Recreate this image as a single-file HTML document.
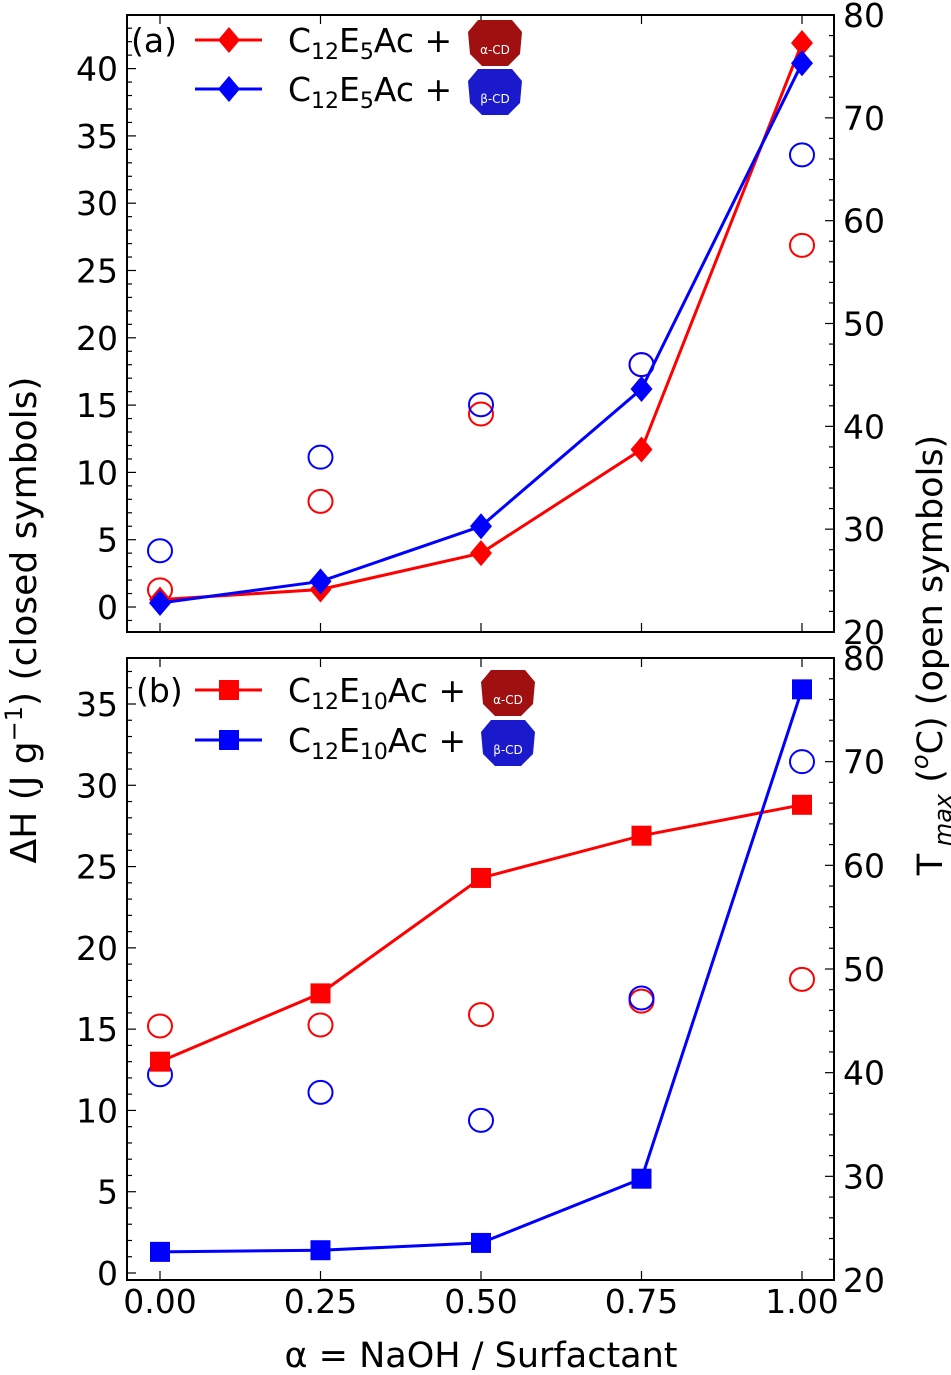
<!DOCTYPE html>
<html><head><meta charset="utf-8"><style>
html,body{margin:0;padding:0;background:#fff;}
svg{display:block;font-family:"DejaVu Sans","Liberation Sans",sans-serif;}
</style></head><body>
<svg id="chart" width="951" height="1375" viewBox="0 0 951 1375" xmlns="http://www.w3.org/2000/svg"></svg>
<script>
const xCats = [0, 0.25, 0.5, 0.75, 1.0];
const xTickLabels = ["0.00","0.25","0.50","0.75","1.00"];
// panel a
const aRedClosed = [0.55, 1.3, 4.0, 11.7, 41.9];
const aBlueClosed = [0.3, 1.9, 6.0, 16.2, 40.4];
const aRedOpen = [24.1, 32.7, 41.2, 46.0, 57.6];
const aBlueOpen = [27.9, 37.0, 42.1, 46.0, 66.4];
const aLeftTicks = [0,5,10,15,20,25,30,35,40];
// panel b
const bRedClosed = [13.0, 17.2, 24.3, 26.9, 28.8];
const bBlueClosed = [1.3, 1.4, 1.85, 5.8, 35.9];
const bRedOpen = [44.5, 44.6, 45.6, 46.9, 49.0];
const bBlueOpen = [39.8, 38.1, 35.4, 47.2, 70.0];
const bLeftTicks = [0,5,10,15,20,25,30,35];
const rightTicks = [20,30,40,50,60,70,80];

const NS="http://www.w3.org/2000/svg";
const svg=document.getElementById('chart');
function mk(tag,attrs,parent){const e=document.createElementNS(NS,tag);for(const k in attrs)e.setAttribute(k,attrs[k]);(parent||svg).appendChild(e);return e;}
const L=127,R=834;
const xs=v=>160+(802-160)*v;
const TF=33;

function panel(cfg){
  const g=mk('g',{});
  
  
  const yl=v=>cfg.l0+(cfg.l1-cfg.l0)*(v-cfg.lv0)/(cfg.lv1-cfg.lv0);
  const yr=v=>cfg.bot+(cfg.top-cfg.bot)*(v-20)/60;
  for(let v=cfg.lminStart; v<=cfg.lminEnd; v+=1){
    const y=yl(v); if(y<cfg.top||y>cfg.bot) continue;
    const t=mk('line',{x1:L,x2:L+(v%5===0?9:5),y1:y,y2:y,stroke:'#000','stroke-width':1.2},g);
    
    
  }
  cfg.lticks.forEach(v=>{
    const t=mk('text',{x:L-9,y:yl(v)+12,'text-anchor':'end','font-size':TF},g);
    t.textContent=v;
    
    
  });
  for(let v=20; v<=80; v+=2){
    const y=yr(v);
    const t=mk('line',{x1:R,x2:R-(v%10===0?9:5),y1:y,y2:y,stroke:'#000','stroke-width':1.2},g);
    
    
  }
  rightTicks.forEach(v=>{
    const t=mk('text',{x:R+9,y:yr(v)+12,'font-size':TF},g);
    t.textContent=v;
    
    
  });
  xCats.forEach((v,i)=>{
    const a=mk('line',{x1:xs(v),x2:xs(v),y1:cfg.top,y2:cfg.top+9,stroke:'#000','stroke-width':1.2},g);
    
    
    const b=mk('line',{x1:xs(v),x2:xs(v),y1:cfg.bot,y2:cfg.bot-9,stroke:'#000','stroke-width':1.2},g);
    
    
    if(cfg.xlabels){
      const t=mk('text',{x:xs(v),y:1313,'text-anchor':'middle','font-size':TF},g);
      t.textContent=xTickLabels[i];
      
      
    }
  });
  [[cfg.redOpen,'#ff0000'],[cfg.blueOpen,'#0000ff']].forEach(([arr,c])=>{
    arr.forEach((v,i)=>{
      const e=mk('ellipse',{cx:xs(xCats[i]),cy:yr(v),rx:12,ry:11.5,fill:'none',stroke:c,'stroke-width':2},g);
      
      
    });
  });
  [[cfg.redClosed,'#ff0000'],[cfg.blueClosed,'#0000ff']].forEach(([arr,c])=>{
    const pts=arr.map((v,i)=>xs(xCats[i])+','+yl(v)).join(' ');
    const pl=mk('polyline',{points:pts,fill:'none',stroke:c,'stroke-width':3},g);
    
    
    arr.forEach((v,i)=>{
      const x=xs(xCats[i]),y=yl(v);let m;
      if(cfg.marker==='d') m=mk('polygon',{points:`${x},${y-13} ${x+11},${y} ${x},${y+13} ${x-11},${y}`,fill:c},g);
      else m=mk('rect',{x:x-10,y:y-10,width:20,height:20,fill:c},g);
      
      
    });
  });
  const fr=mk('rect',{x:L,y:cfg.top,width:R-L,height:cfg.bot-cfg.top,fill:'none',stroke:'#000','stroke-width':2},g);
  
  
  const lab=mk('text',{x:cfg.tagX,y:cfg.leg1+12,'font-size':TF},g);
  lab.textContent=cfg.tag;
  
  
  [[cfg.leg1,'#ff0000','#a01010','α-CD'],[cfg.leg2,'#0000ff','#1a1acc','β-CD']].forEach(([y,c,ic,cd])=>{
    const lg=mk('g',{},g);
    
    
    mk('line',{x1:195,x2:262,y1:y,y2:y,stroke:c,'stroke-width':3},lg);
    if(cfg.marker==='d') mk('polygon',{points:`229,${y-13} 240,${y} 229,${y+13} 218,${y}`,fill:c},lg);
    else mk('rect',{x:219,y:y-10,width:20,height:20,fill:c},lg);
    const t=mk('text',{x:288,y:y+12,'font-size':TF},lg);
    t.innerHTML=`C<tspan font-size="22" dy="7">12</tspan><tspan dy="-7">E</tspan><tspan font-size="22" dy="7">${cfg.n}</tspan><tspan dy="-7">Ac +</tspan>`;
    const ix=cfg.iconX;
    mk('polygon',{points:`${ix+10},${y-20} ${ix+44},${y-20} ${ix+54},${y-8} ${ix+52},${y+14} ${ix+40},${y+26} ${ix+14},${y+26} ${ix+2},${y+14} ${ix},${y-8}`,fill:ic},lg);
    const ct=mk('text',{x:ix+27,y:y+14,'text-anchor':'middle','font-size':12,fill:'#fff'},lg);
    ct.textContent=cd;
  });
}
panel({name:'panel-a',top:15,bot:632,l0:607,l1:68.6,lv0:0,lv1:40,lminStart:-1,lminEnd:43,lticks:aLeftTicks,
  redClosed:aRedClosed,blueClosed:aBlueClosed,redOpen:aRedOpen,blueOpen:aBlueOpen,marker:'d',xlabels:false,
  tag:'(a)',tagX:131,leg1:40,leg2:89,n:'5',iconX:468});
panel({name:'panel-b',top:658,bot:1280,l0:1273,l1:704,lv0:0,lv1:35,lminStart:0,lminEnd:37,lticks:bLeftTicks,
  redClosed:bRedClosed,blueClosed:bBlueClosed,redOpen:bRedOpen,blueOpen:bBlueOpen,marker:'s',xlabels:true,
  tag:'(b)',tagX:136,leg1:690,leg2:740,n:'10',iconX:481});

const yt=mk('text',{x:0,y:0,'font-size':36,'text-anchor':'middle',transform:'translate(36,620) rotate(-90)'});
yt.innerHTML='ΔH (J g<tspan font-size="24" dy="-14">−1</tspan><tspan dy="14">) (closed symbols)</tspan>';


const rt=mk('text',{x:0,y:0,'font-size':35,'text-anchor':'middle',transform:'translate(942,655) rotate(-90)'});
rt.innerHTML='T<tspan font-size="24" font-style="italic" dy="9"> max</tspan><tspan dy="-9"> (</tspan><tspan font-size="24" font-style="italic" dy="-14">o</tspan><tspan dy="14">C) (open symbols)</tspan>';


const xt=mk('text',{x:481,y:1367,'font-size':35,'text-anchor':'middle'});
xt.textContent='α = NaOH / Surfactant';


</script>
</body></html>
